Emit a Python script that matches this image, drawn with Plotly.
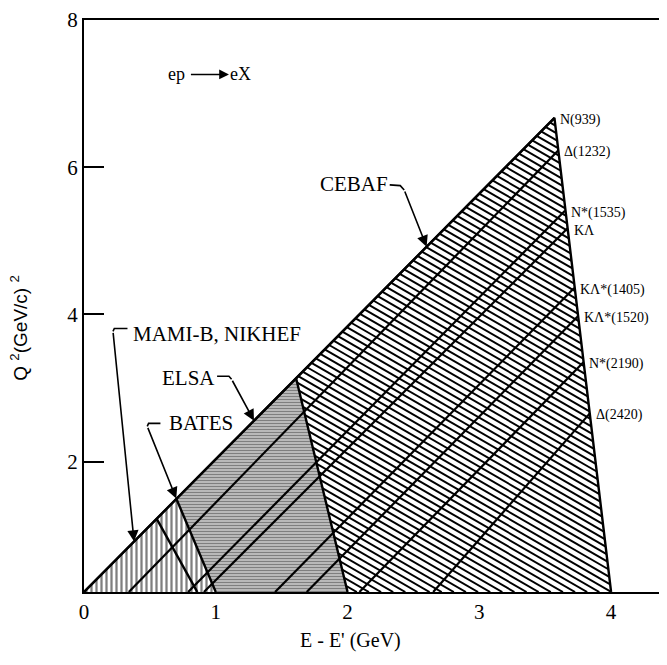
import numpy as np
import plotly.graph_objects as go

# ---------------- data ----------------
q2_axis_min = 0.23                      # Q^2 at which the drawn x-axis sits (read against the ticks)

facilities = ["CEBAF", "ELSA", "BATES", "MAMI-B, NIKHEF"]
apex_nu = [3.57, 1.61, 0.70, 0.55]      # GeV, top corner of each kinematic region
apex_q2 = [6.67, 3.13, 1.50, 1.23]      # (GeV/c)^2
max_nu = [4.00, 2.00, 1.00, 0.86]       # GeV, where region meets the axis

states = ["N(939)", "Δ(1232)", "N*(1535)", "KΛ", "KΛ*(1405)", "KΛ*(1520)", "N*(2190)", "Δ(2420)"]
state_nu0 = [0.00, 0.34, 0.79, 0.91, 1.45, 1.69, 2.09, 2.65]     # start on the axis
state_nu1 = [3.57, 3.60, 3.65, 3.67, 3.72, 3.75, 3.79, 3.84]     # end on CEBAF edge
state_q21 = [6.67, 6.23, 5.41, 5.17, 4.36, 3.98, 3.35, 2.66]

x_ticks = [0, 1, 2, 3, 4]
y_ticks = [2, 4, 6, 8]

# ---------------- geometry ----------------
W, H = 667, 665
ML, MR, MT, MB = 76, 0, 12, 81
XR = [0, 4.485]
YR = [q2_axis_min, 8]
PW, PH = W - ML - MR, H - MT - MB
sx = PW / (XR[1] - XR[0])
sy = PH / (YR[1] - YR[0])

SERIF = "Liberation Serif"
SANS = "Liberation Sans"

def region(i):
    return [(0.0, q2_axis_min), (apex_nu[i], apex_q2[i]), (max_nu[i], q2_axis_min)]

def on_upper_edge(nu):
    return q2_axis_min + (apex_q2[0] - q2_axis_min) * nu / apex_nu[0]

def clip_line(c, m, poly):
    pts = []
    n = len(poly)
    for k in range(n):
        (x1, y1), (x2, y2) = poly[k], poly[(k + 1) % n]
        dx, dy = x2 - x1, y2 - y1
        den = dy - m * dx
        if abs(den) < 1e-12:
            continue
        t = (c + m * x1 - y1) / den
        if -1e-9 <= t <= 1 + 1e-9:
            pts.append((x1 + t * dx, y1 + t * dy))
    if len(pts) < 2:
        return None
    pts.sort()
    return pts[0], pts[-1]

fig = go.Figure()

# CEBAF hatching: lines ~30 deg below horizontal (in screen space)
ceb = region(0)
m = -np.tan(np.radians(30)) * sx / sy
spacing = 7.0 / sy
cs = [y - m * x for x, y in ceb]
hx, hy = [], []
c = min(cs) + spacing / 2
while c < max(cs):
    seg = clip_line(c, m, ceb)
    if seg:
        hx += [seg[0][0], seg[1][0], None]
        hy += [seg[0][1], seg[1][1], None]
    c += spacing
fig.add_trace(go.Scatter(x=hx, y=hy, mode="lines", line=dict(color="black", width=2.0),
                         hoverinfo="skip", showlegend=False))

# ELSA region
poly = region(1)
fig.add_trace(go.Scatter(x=[p[0] for p in poly] + [poly[0][0]], y=[p[1] for p in poly] + [poly[0][1]],
                         mode="lines", fill="toself", fillcolor="white", line=dict(width=0, color="black"),
                         fillpattern=dict(shape="-", fgcolor="black", bgcolor="white", size=3, solidity=0.7),
                         hoverinfo="skip", showlegend=False))
# BATES / MAMI region (vertical hatching)
poly = region(2)
fig.add_trace(go.Scatter(x=[p[0] for p in poly] + [poly[0][0]], y=[p[1] for p in poly] + [poly[0][1]],
                         mode="lines", fill="toself", fillcolor="white", line=dict(width=0, color="black"),
                         fillpattern=dict(shape="|", fgcolor="black", bgcolor="white", size=5, solidity=0.45),
                         hoverinfo="skip", showlegend=False))

# resonance / threshold lines
for i in range(len(states)):
    fig.add_trace(go.Scatter(x=[state_nu0[i], state_nu1[i]], y=[q2_axis_min, state_q21[i]], mode="lines",
                             line=dict(color="black", width=2.2), hoverinfo="skip", showlegend=False))

# region outlines
for i in range(len(facilities)):
    poly = region(i)
    if i == 0:
        xs = [p[0] for p in poly]
        ys = [p[1] for p in poly]
    else:
        xs = [poly[1][0], poly[2][0]]
        ys = [poly[1][1], poly[2][1]]
    fig.add_trace(go.Scatter(x=xs, y=ys, mode="lines", line=dict(color="black", width=2.4),
                             hoverinfo="skip", showlegend=False))

annotations = []
# state labels at right edge
for i, s in enumerate(states):
    annotations.append(dict(x=state_nu1[i], y=state_q21[i], text=s, showarrow=False, xanchor="left",
                            yanchor="middle", xshift=4, yshift=-2,
                            font=dict(family=SERIF, size=14, color="black")))

# facility labels with hooked arrows
lab_font = dict(family=SERIF, size=21, color="black")
def add_label(text, tx, ty, hook, tip):
    annotations.append(dict(x=tx, y=ty, text=text, showarrow=False, font=lab_font))
    fig.add_trace(go.Scatter(x=[p[0] for p in hook], y=[p[1] for p in hook], mode="lines",
                             line=dict(color="black", width=1.6), hoverinfo="skip", showlegend=False))
    annotations.append(dict(x=tip[0], y=tip[1], ax=hook[-1][0], ay=hook[-1][1], axref="x", ayref="y",
                            xref="x", yref="y", text="", showarrow=True, arrowhead=2, arrowsize=1.4,
                            arrowwidth=1.6, arrowcolor="black"))

add_label("CEBAF", 2.05, 5.77, [(2.32, 5.76), (2.40, 5.75), (2.43, 5.69)], (2.60, on_upper_edge(2.60)))
add_label("ELSA", 0.79, 3.14, [(1.01, 3.16), (1.10, 3.16), (1.12, 3.12)], (1.29, on_upper_edge(1.29)))
add_label("MAMI-B, NIKHEF", 1.01, 3.74, [(0.33, 3.81), (0.23, 3.81), (0.22, 3.77)], (0.38, on_upper_edge(0.38)))
add_label("BATES", 0.89, 2.52, [(0.58, 2.52), (0.49, 2.52), (0.48, 2.48)], (apex_nu[2], apex_q2[2]))

# reaction label
rfont = dict(family=SERIF, size=18, color="black")
annotations.append(dict(x=0.70, y=7.26, text="ep", showarrow=False, font=rfont))
annotations.append(dict(x=1.19, y=7.26, text="eX", showarrow=False, font=rfont))
annotations.append(dict(x=1.10, y=7.26, ax=0.80, ay=7.26, axref="x", ayref="y", xref="x", yref="y",
                        text="", showarrow=True, arrowhead=2, arrowsize=1.3, arrowwidth=1.5, arrowcolor="black"))

# axis titles
annotations.append(dict(xref="paper", yref="paper", x=(11 - ML) / PW, y=0.462, xanchor="center",
                        yanchor="middle", text="Q <sup>2</sup>(GeV/c) <sup>2</sup>", textangle=-90,
                        showarrow=False, font=dict(family=SANS, size=19, color="black")))
annotations.append(dict(xref="x", yref="paper", x=2.02, y=-48 / PH, yanchor="middle",
                        text="E - E' (GeV)", showarrow=False,
                        font=dict(family=SERIF, size=20, color="black")))

fig.update_layout(
    width=W, height=H, margin=dict(l=ML, r=MR, t=MT, b=MB),
    paper_bgcolor="white", plot_bgcolor="white", showlegend=False,
    annotations=annotations,
    xaxis=dict(range=XR, showline=True, linewidth=2, linecolor="black", mirror=True, ticks="",
               tickvals=x_ticks, ticktext=[str(v) for v in x_ticks], showgrid=False, zeroline=False,
               tickfont=dict(family=SERIF, size=21, color="black")),
    yaxis=dict(range=YR, showline=True, linewidth=2, linecolor="black", ticks="inside", ticklen=20,
               tickwidth=2, tickcolor="black", tickvals=y_ticks, ticktext=[str(v) for v in y_ticks],
               showgrid=False, zeroline=False, tickfont=dict(family=SERIF, size=21, color="black")),
)

fig.write_html("out.html")
